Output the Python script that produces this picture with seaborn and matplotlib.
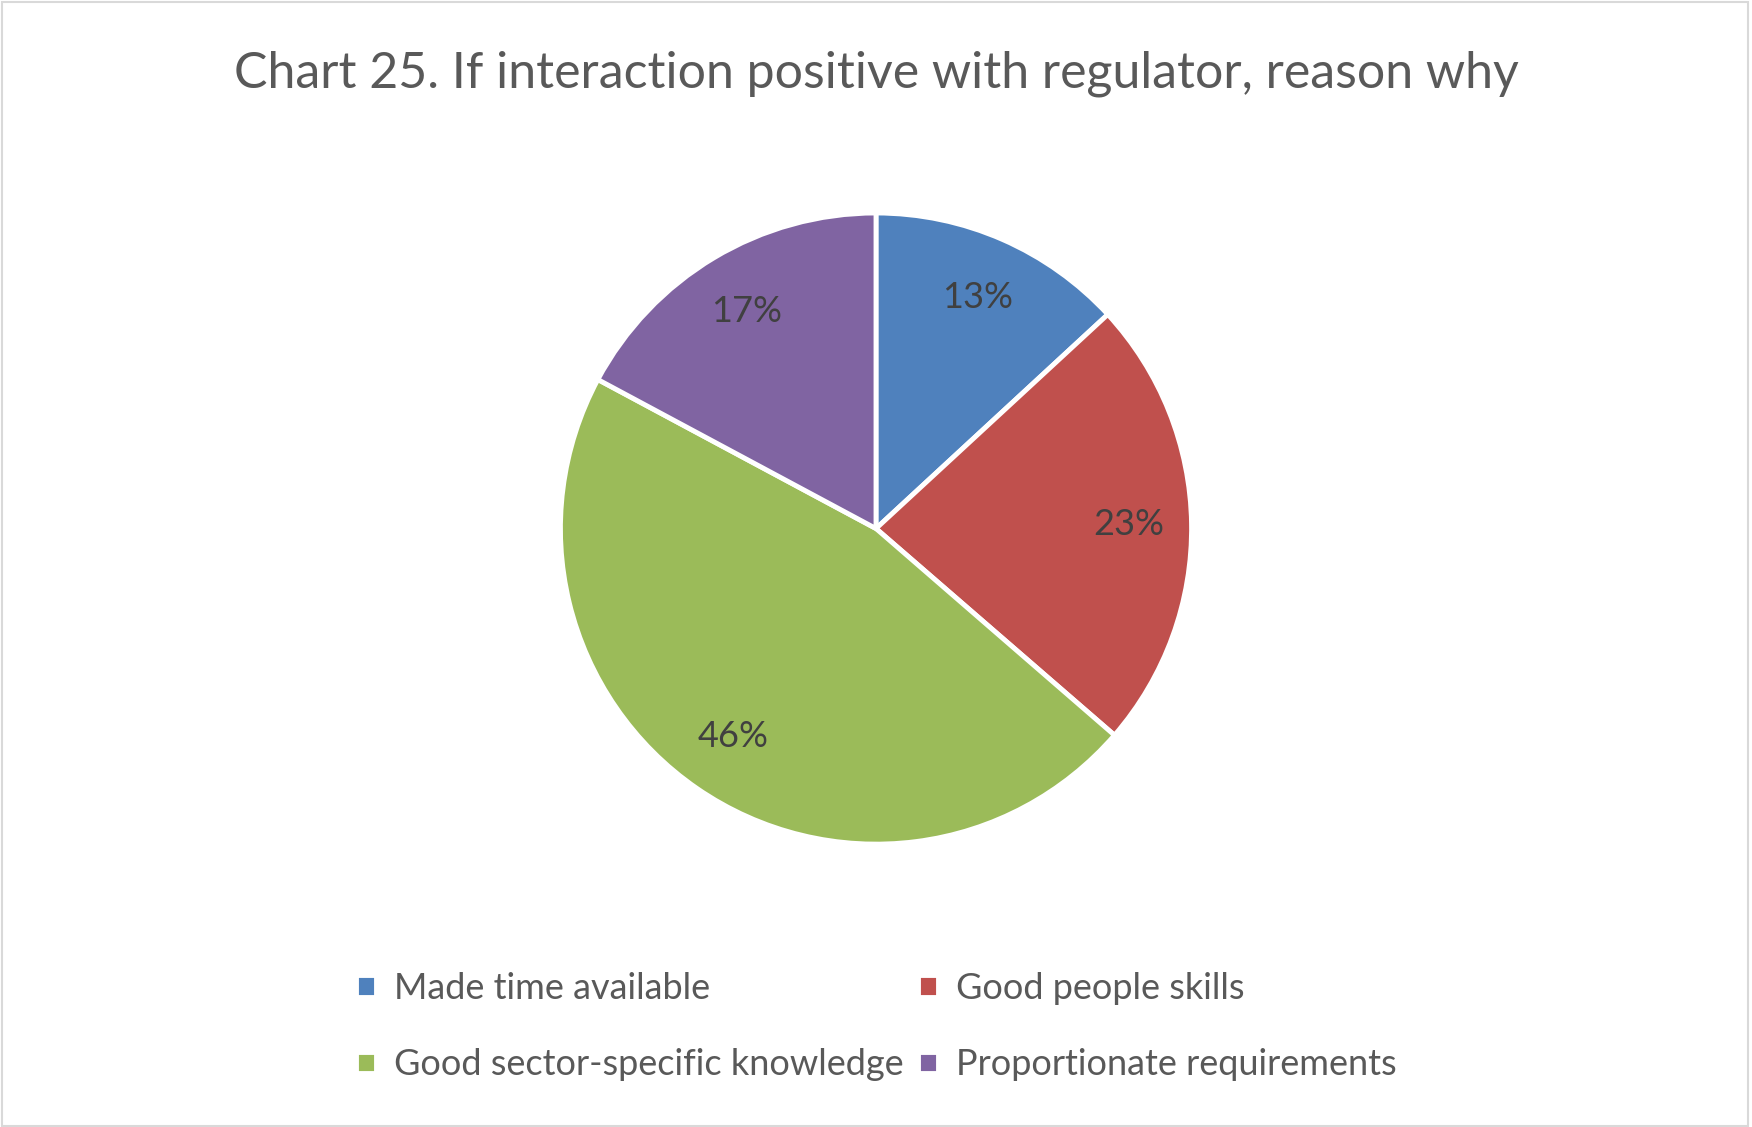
import matplotlib
matplotlib.use("Agg")
import matplotlib.pyplot as plt
import seaborn as sns
from matplotlib.patches import Rectangle

categories = ["Made time available", "Good people skills",
              "Good sector-specific knowledge", "Proportionate requirements"]
shares = [13, 23, 46, 17]
colors = ["#4f81bd", "#c0504d", "#9bbb59", "#8064a2"]

sns.set_theme(style="white")
plt.rcParams["font.family"] = ["Lato", "DejaVu Sans"]

fig = plt.figure(figsize=(17.52, 11.27), dpi=100)
r = 0.35
ax = fig.add_axes([0.5 - r * 1127 / 1752, 0.531 - r, 2 * r * 1127 / 1752, 2 * r])
wedges, texts, autotexts = ax.pie(
    shares, colors=sns.color_palette(colors), startangle=90, counterclock=False,
    autopct=lambda p: f"{p:.0f}%", pctdistance=0.8,
    wedgeprops=dict(edgecolor="white", linewidth=3.5),
    textprops=dict(color="#404040", fontsize=26),
)
ax.set_aspect("equal")

fig.text(0.5, 0.935, "Chart 25. If interaction positive with regulator, reason why",
         ha="center", va="center", fontsize=36, color="#595959")

# legend fills row by row in the reference
order = [0, 2, 1, 3]
fig.legend([wedges[i] for i in order], [categories[i] for i in order],
           loc="center", bbox_to_anchor=(0.5, 0.089), ncol=2,
           frameon=False, fontsize=26, labelcolor="#595959", handlelength=0.55,
           handleheight=0.55, columnspacing=0.4, handletextpad=0.5, labelspacing=1.2)

fig.patches.append(Rectangle((0.001, 0.001), 0.997, 0.997, transform=fig.transFigure,
                             fill=False, edgecolor="#d9d9d9", linewidth=1.5))
fig.savefig("out.png", dpi=100)
